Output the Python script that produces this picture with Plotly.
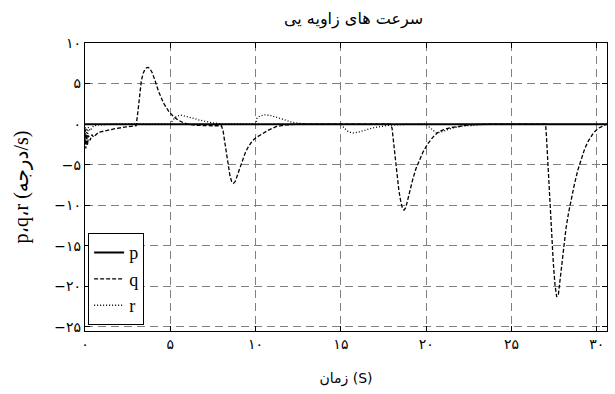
import plotly.graph_objects as go

# ---- data ----
t_p = [0, 30.6]
p_vals = [0, 0]

t_q = [0, 0.05, 0.1, 0.15, 0.2, 0.3, 0.4, 0.5, 0.8, 1.2, 1.8, 2.4, 3.0,
       3.1, 3.2, 3.3, 3.4, 3.5, 3.6, 3.7, 3.8, 3.95, 4.1, 4.3, 4.6, 4.9, 5.2, 5.5, 5.8, 6.1, 6.5, 7.0, 7.5, 8.0,
       8.1, 8.2, 8.3, 8.4, 8.5, 8.6, 8.7, 8.8, 8.9, 9.0, 9.2, 9.4, 9.6, 9.8, 10.0, 10.3, 10.7, 11.2, 11.8, 12.5,
       14, 16, 17.9,
       18.0, 18.1, 18.2, 18.3, 18.4, 18.5, 18.6, 18.7, 18.8, 18.9, 19.0, 19.2, 19.4, 19.6, 19.8, 20.1, 20.4, 20.7,
       21.0, 21.4, 21.9, 22.5, 23.5, 25, 27.0,
       27.05, 27.15, 27.25, 27.35, 27.45, 27.55, 27.65, 27.75, 27.85, 27.95, 28.05, 28.2, 28.35, 28.5, 28.7, 28.9,
       29.1, 29.3, 29.5, 29.8, 30.1, 30.4, 30.6]
q_vals = [-0.5, -3.0, -1.2, -2.6, -1.4, -2.0, -1.3, -1.6, -1.0, -0.8, -0.55, -0.35, -0.2,
          1.5, 3.8, 5.3, 6.2, 6.7, 6.95, 7.0, 6.85, 6.3, 5.4, 4.1, 2.6, 1.6, 0.9, 0.45, 0.15, -0.05, -0.15, -0.2, -0.2, -0.2,
          -0.9, -2.3, -3.9, -5.3, -6.4, -7.1, -7.3, -7.1, -6.5, -5.8, -4.5, -3.5, -2.7, -2.1, -1.7, -1.3, -0.8, -0.3, -0.1, 0,
          0, 0, 0,
          -0.5, -2.4, -4.5, -6.5, -8.2, -9.4, -10.3, -10.6, -10.3, -9.5, -8.6, -6.9, -5.5, -4.4, -3.5, -2.4, -1.6, -1.0,
          -0.7, -0.45, -0.25, -0.1, 0, 0, 0,
          -1.5, -5.5, -9.8, -13.8, -17.0, -19.8, -21.3, -21.0, -19.2, -17.0, -15.2, -12.8, -10.9, -9.3, -7.3, -5.6,
          -4.2, -3.0, -2.1, -1.1, -0.5, -0.15, 0]

t_r = [0, 0.05, 0.1, 0.15, 0.2, 0.3, 0.5, 0.8, 1.5, 5.0, 5.15, 5.35, 5.6, 5.9, 6.3, 6.7, 7.1, 7.5, 8.0,
       10.0, 10.08, 10.25, 10.55, 10.9, 11.3, 11.7, 12.1, 12.5, 13,
       15.0, 15.2, 15.45, 15.7, 16.0, 16.4, 16.8, 17.3, 17.9, 18.5,
       20.0, 20.2, 20.4, 20.6, 20.9, 21.2, 21.6, 22.1, 22.7, 23.3, 23.8, 25, 30.6]
r_vals = [0, -2.2, -0.5, -1.5, -0.4, -0.8, -0.2, -0.1, 0, 0, 0.5, 0.95, 1.12, 1.0, 0.75, 0.5, 0.3, 0.15, 0.03,
          0, 0.7, 1.0, 1.15, 1.05, 0.8, 0.5, 0.25, 0.1, 0,
          0, -0.5, -0.95, -1.1, -1.0, -0.75, -0.5, -0.3, -0.12, -0.05,
          0, -0.4, -0.8, -1.1, -0.95, -0.7, -0.45, -0.25, -0.15, -0.05, 0, 0, 0]

x_tickvals = [0, 5, 10, 15, 20, 25, 30]
x_ticktext = ["۰", "۵", "۱۰", "۱۵", "۲۰", "۲۵", "۳۰"]
y_tickvals = [10, 5, 0, -5, -10, -15, -20, -25]
y_ticktext = ["۱۰", "۵", "۰", "−۵", "−۱۰", "−۱۵", "−۲۰", "−۲۵"]

title_text = "سرعت های زاویه یی"
x_title = "\u200eزمان (S)\u200e"
y_title = "\u200ep،q،r (درجه/s)\u200e"

fig = go.Figure()
fig.add_trace(go.Scatter(x=t_p, y=p_vals, mode="lines", name="p",
                         line=dict(color="black", width=2, dash="solid")))
fig.add_trace(go.Scatter(x=t_q, y=q_vals, mode="lines", name="q",
                         line=dict(color="black", width=1.3, dash="4px,2px")))
fig.add_trace(go.Scatter(x=t_r, y=r_vals, mode="lines", name="r",
                         line=dict(color="black", width=1.3, dash="1px,2px")))

axis_common = dict(
    showline=True, linecolor="black", linewidth=1.2, mirror="ticks",
    ticks="inside", ticklen=5, tickcolor="black",
    showgrid=True, gridcolor="#808080", gridwidth=1, griddash="8px,5px",
    zeroline=False,
    tickfont=dict(family="DejaVu Sans, Liberation Serif", size=14, color="black"),
)

fig.update_layout(
    width=615, height=394,
    margin=dict(l=85, r=8, t=43, b=63),
    paper_bgcolor="white", plot_bgcolor="white",
    title=dict(text=title_text, x=0.575, xanchor="center", y=0.953, yanchor="middle",
               font=dict(family="DejaVu Sans", size=16, color="black")),
    xaxis=dict(range=[0, 30.6], tickvals=x_tickvals, ticktext=x_ticktext,
               title=dict(text=x_title, standoff=22,
                          font=dict(family="DejaVu Sans, Liberation Serif", size=14, color="black")),
               automargin=False, **axis_common),
    yaxis=dict(range=[-25.5, 10], tickvals=y_tickvals, ticktext=y_ticktext,
               title=dict(text=y_title, standoff=20,
                          font=dict(family="Liberation Serif, DejaVu Sans", size=20, color="black")),
               automargin=False, **axis_common),
    legend=dict(x=0.006, y=0.02, xanchor="left", yanchor="bottom",
                bgcolor="white", bordercolor="black", borderwidth=1,
                font=dict(family="Liberation Serif", size=18, color="black"),
                itemwidth=30, tracegroupgap=0),
    showlegend=True,
)

fig.write_html("out.html")
